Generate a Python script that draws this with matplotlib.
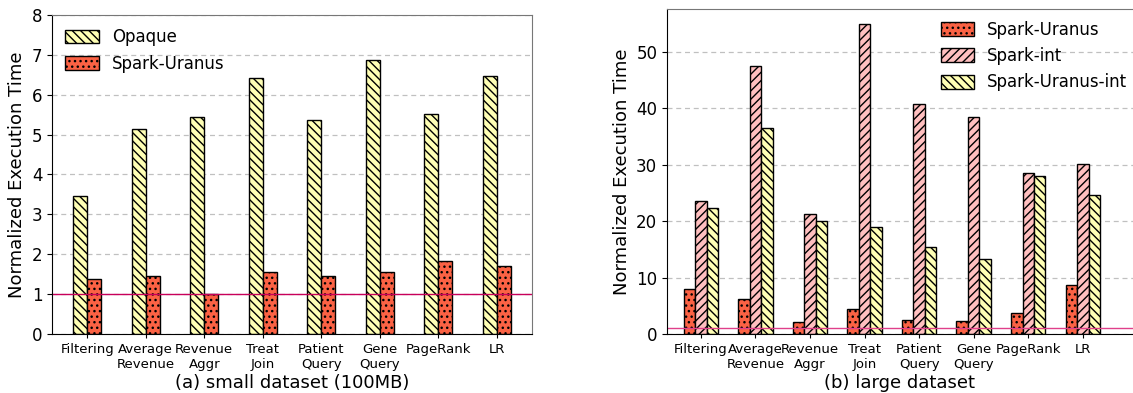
import numpy as np
import matplotlib.pyplot as plt

# ── DATA ──────────────────────────────────────────────────────────
categories = ["Filtering", "Average\nRevenue", "Revenue\nAggr", "Treat\nJoin",
              "Patient\nQuery", "Gene\nQuery", "PageRank", "LR"]

# (a) small dataset
small_opaque = [3.45, 5.15, 5.45, 6.42, 5.37, 6.87, 5.52, 6.48]
small_uranus = [1.38, 1.45, 1.00, 1.55, 1.45, 1.55, 1.82, 1.70]

# (b) large dataset
large_uranus = [8.0, 6.2, 2.1, 4.4, 2.5, 2.3, 3.7, 8.7]
large_int = [23.6, 47.5, 21.3, 55.0, 40.8, 38.5, 28.6, 30.2]
large_uranus_int = [22.4, 36.6, 20.1, 18.9, 15.5, 13.3, 28.0, 24.6]

YELLOW = "#ffffb5"
RED = "#fb6244"
PINK = "#ffbfbf"

plt.rcParams["font.family"] = "DejaVu Sans"
plt.rcParams["hatch.linewidth"] = 1.0

fig = plt.figure(figsize=(11.33, 3.93), dpi=100)
ax1 = fig.add_axes([0.0459, 0.150, 0.4237, 0.812])
ax2 = fig.add_axes([0.5887, 0.150, 0.4113, 0.827])


def style_axes(ax):
    ax.yaxis.grid(True, linestyle=(0, (4, 3)), color="#c0c0c0", linewidth=0.9)
    ax.set_axisbelow(True)
    for s in ("top", "right"):
        ax.spines[s].set_color("#777777")
    ax.spines["left"].set_color("black")
    ax.spines["bottom"].set_color("black")
    ax.tick_params(axis="x", labelsize=9.5, length=3)
    ax.tick_params(axis="y", labelsize=12)
    ax.set_ylabel("Normalized Execution Time", fontsize=13)


# ── (a) small dataset ─────────────────────────────────────────────
x = np.arange(len(categories))
w = 0.24
ax1.bar(x - w / 2, small_opaque, w, color=YELLOW, edgecolor="black",
        hatch="\\\\\\\\", label="Opaque", linewidth=1.0)
ax1.bar(x + w / 2, small_uranus, w, color=RED, edgecolor="black",
        hatch="...", label="Spark-Uranus", linewidth=1.0)
ax1.axhline(1, color="#c8005a", linewidth=1.0)
ax1.set_ylim(0, 8)
ax1.set_xlim(-0.6, 7.6)
ax1.set_xticks(x)
ax1.set_xticklabels(categories)
style_axes(ax1)
ax1.set_xlabel("(a) small dataset (100MB)", fontsize=13, labelpad=2)
ax1.legend(loc="upper left", frameon=False, fontsize=12, handlelength=2.0,
           handleheight=0.9, handletextpad=0.8, borderaxespad=0.4)

# ── (b) large dataset ─────────────────────────────────────────────
w2 = 0.21
ax2.bar(x - w2, large_uranus, w2, color=RED, edgecolor="black",
        hatch="...", label="Spark-Uranus", linewidth=1.0)
ax2.bar(x, large_int, w2, color=PINK, edgecolor="black",
        hatch="////", label="Spark-int", linewidth=1.0)
ax2.bar(x + w2, large_uranus_int, w2, color=YELLOW, edgecolor="black",
        hatch="\\\\\\\\", label="Spark-Uranus-int", linewidth=1.0)
ax2.axhline(1, color="#e0408a", linewidth=1.0)
ax2.set_ylim(0, 57.6)
ax2.set_xlim(-0.62, 7.92)
ax2.set_yticks([0, 10, 20, 30, 40, 50])
ax2.set_xticks(x)
ax2.set_xticklabels(categories)
style_axes(ax2)
ax2.spines["right"].set_visible(False)
ax2.set_xlabel("(b) large dataset", fontsize=13, labelpad=2)
ax2.legend(loc="upper left", bbox_to_anchor=(0.562, 1.0), frameon=False,
           fontsize=12, handlelength=2.0, handleheight=0.9, handletextpad=0.8,
           labelspacing=0.5, borderaxespad=0.3)

fig.savefig("out.png", dpi=100)
